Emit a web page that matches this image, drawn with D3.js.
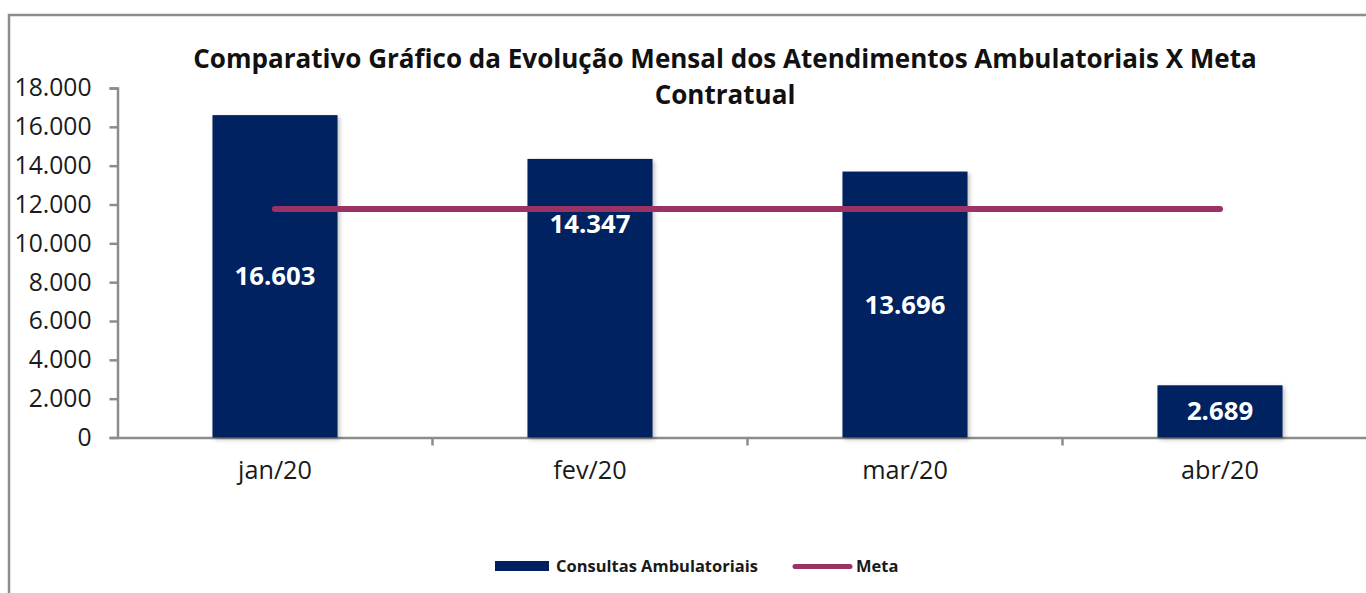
<!DOCTYPE html>
<html>
<head>
<meta charset="utf-8">
<script src="https://cdn.jsdelivr.net/npm/d3@7"></script>
<style>
  html, body { margin: 0; padding: 0; background: #fff; overflow: hidden; }
  svg { display: block; }
  svg text { font-family: "Open Sans", Lato, sans-serif; }
</style>
</head>
<body>
<svg id="chart" width="1366" height="593"></svg>
<script>
'use strict'

/****** DATA ******/
const months = ['jan/20', 'fev/20', 'mar/20', 'abr/20']
const consultas = [16603, 14347, 13696, 2689]
const meta = [11770, 11770, 11770, 11770]
const yTicks = [0, 2000, 4000, 6000, 8000, 10000, 12000, 14000, 16000, 18000]
const titleLines = ['Comparativo Gráfico da Evolução Mensal dos Atendimentos Ambulatoriais X Meta', 'Contratual']
const legendLabels = ['Consultas Ambulatoriais', 'Meta']

/****** STYLE ******/
const BAR_COLOR = '#002060'
const META_COLOR = '#9b3264'
const AXIS_COLOR = '#8c8c8c'
const TEXT_COLOR = '#1a1a1a'

const numFmt = d3.formatLocale({decimal: ',', thousands: '.', grouping: [3], currency: ['R$', '']}).format(',.0f')

// scale the font of a selection so that its first text node is `w` px wide
function fitWidth(sel, w) {
  const node = sel.node()
  const fs = parseFloat(sel.attr('font-size') || 20)
  const len = node.getComputedTextLength()
  if (len > 0) sel.attr('font-size', fs * w / len)
  return sel
}

const svg = d3.select('#chart')

// outer chart border (runs off the right/bottom edge)
svg.append('path')
  .attr('d', 'M9,600 V15 H1380')
  .attr('fill', 'none')
  .attr('stroke', AXIS_COLOR)
  .attr('stroke-width', 2.5)

const defs = svg.append('defs')
const shadow = defs.append('filter').attr('id', 'shadow')
  .attr('x', '-10%').attr('y', '-10%').attr('width', '130%').attr('height', '130%')
shadow.append('feDropShadow')
  .attr('dx', 2).attr('dy', 2).attr('stdDeviation', 2)
  .attr('flood-color', '#000').attr('flood-opacity', 0.25)

const x = d3.scaleBand()
  .domain(months)
  .range([117.5, 1377.5])

const y = d3.scaleLinear()
  .domain([0, 18000])
  .range([437.5, 88])

// Title
const title = svg.append('g')
  .attr('font-weight', 'bold')
  .attr('fill', '#111')
const t1 = title.append('text')
  .attr('x', 725).attr('y', 68)
  .attr('text-anchor', 'middle')
  .attr('font-size', 24)
  .text(titleLines[0])
fitWidth(t1, 1064)
title.append('text')
  .attr('x', 725).attr('y', 104)
  .attr('text-anchor', 'middle')
  .attr('font-size', t1.attr('font-size'))
  .text(titleLines[1])

// Y axis
const yAxis = svg.append('g')
  .attr('transform', `translate(${x.range()[0]},0)`)
  .call(d3.axisLeft(y).tickValues(yTicks).tickFormat(numFmt).tickSize(8).tickPadding(18))
yAxis.select('.domain').attr('stroke', AXIS_COLOR).attr('stroke-width', 2.5)
yAxis.selectAll('.tick line').attr('stroke', AXIS_COLOR).attr('stroke-width', 2.5)
const yLabels = yAxis.selectAll('.tick text')
  .attr('font-size', 21)
  .attr('fill', TEXT_COLOR)
const yTop = yLabels.filter(d => d === 18000)
fitWidth(yTop, 77)
yLabels.attr('font-size', yTop.attr('font-size'))

// X axis
const xAxis = svg.append('g')
  .attr('transform', `translate(0,${y(0)})`)
  .call(d3.axisBottom(x).tickSize(0).tickPadding(24))
xAxis.select('.domain').attr('stroke', AXIS_COLOR).attr('stroke-width', 2.5)
const xLabels = xAxis.selectAll('.tick text')
  .attr('font-size', 21)
  .attr('fill', TEXT_COLOR)
const xFirst = xLabels.filter(d => d === 'jan/20')
fitWidth(xFirst, 74)
xLabels.attr('font-size', xFirst.attr('font-size'))
// category separator ticks
xAxis.selectAll('.sep')
  .data(months.slice(1))
  .join('line')
    .attr('class', 'sep')
    .attr('x1', d => x(d)).attr('x2', d => x(d))
    .attr('y1', 0).attr('y2', 8)
    .attr('stroke', AXIS_COLOR).attr('stroke-width', 2.5)

// Bars
const barW = x.bandwidth() * 0.397
svg.append('g').selectAll('rect')
  .data(consultas)
  .join('rect')
    .attr('x', (d, i) => x(months[i]) + x.bandwidth() / 2 - barW / 2)
    .attr('y', d => y(d))
    .attr('width', barW)
    .attr('height', d => y(0) - y(d))
    .attr('fill', BAR_COLOR)
    .attr('filter', 'url(#shadow)')

// Meta line
const line = d3.line()
  .x((d, i) => x(months[i]) + x.bandwidth() / 2)
  .y(d => y(d))
svg.append('path')
  .datum(meta)
  .attr('d', line)
  .attr('fill', 'none')
  .attr('stroke', META_COLOR)
  .attr('stroke-width', 6)
  .attr('stroke-linecap', 'round')

// Value labels (centred in bar; the fev label was moved up in the original)
const labelShift = {'fev/20': -74}
const vLabels = svg.append('g').selectAll('text')
  .data(consultas)
  .join('text')
    .attr('x', (d, i) => x(months[i]) + x.bandwidth() / 2)
    .attr('y', (d, i) => (y(d) + y(0)) / 2 + (labelShift[months[i]] || 0))
    .attr('dy', '0.35em')
    .attr('text-anchor', 'middle')
    .attr('font-weight', 'bold')
    .attr('font-size', 22)
    .attr('fill', '#fff')
    .text(d => numFmt(d))
const vFirst = d3.select(vLabels.nodes()[0])
fitWidth(vFirst, 81)
vLabels.attr('font-size', vFirst.attr('font-size'))

// Legend
const legend = svg.append('g').attr('font-weight', 'bold').attr('fill', TEXT_COLOR)
legend.append('rect')
  .attr('x', 495).attr('y', 561).attr('width', 54).attr('height', 10)
  .attr('fill', BAR_COLOR)
const lt1 = legend.append('text')
  .attr('x', 556).attr('y', 566).attr('dy', '0.35em')
  .attr('font-size', 15)
  .text(legendLabels[0])
fitWidth(lt1, 202)
legend.append('line')
  .attr('x1', 795).attr('x2', 850).attr('y1', 566.5).attr('y2', 566.5)
  .attr('stroke', META_COLOR).attr('stroke-width', 5).attr('stroke-linecap', 'round')
legend.append('text')
  .attr('x', 856).attr('y', 566).attr('dy', '0.35em')
  .attr('font-size', lt1.attr('font-size'))
  .text(legendLabels[1])
</script>
</body>
</html>
